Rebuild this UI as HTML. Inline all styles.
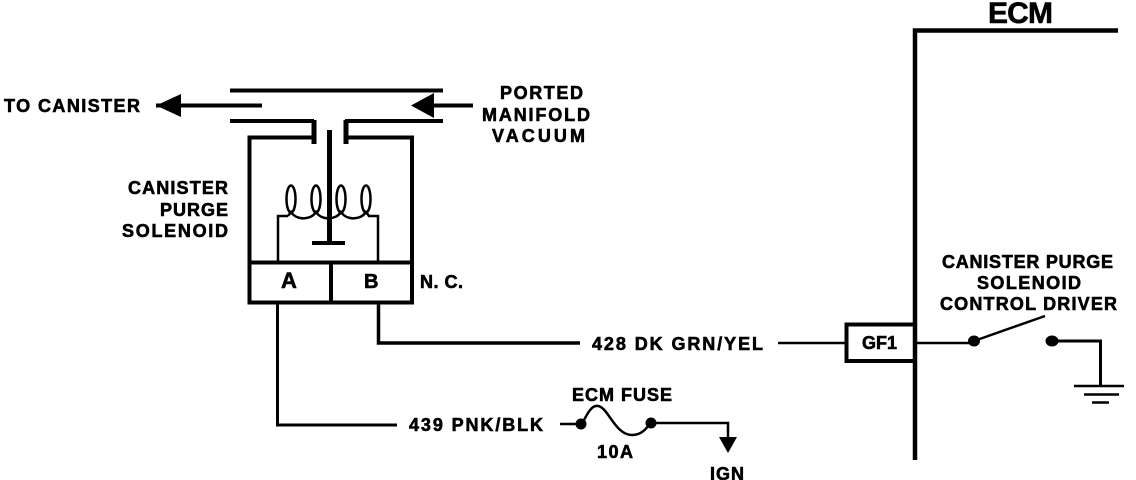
<!DOCTYPE html>
<html><head><meta charset="utf-8"><style>
html,body{margin:0;padding:0;background:#fff;width:1136px;height:480px;overflow:hidden}
svg{display:block}
text{font-family:"Liberation Sans",sans-serif;font-weight:bold;fill:#000;stroke:#000;stroke-width:.6;font-size:18px}
</style></head><body>
<svg width="1136" height="480" viewBox="0 0 1136 480" xmlns="http://www.w3.org/2000/svg">
<g fill="none" stroke="#000" stroke-linecap="butt">
<!-- vacuum pipes -->
<path d="M230 90.500H443" stroke-width="4"/>
<path d="M230 121H314M345 121H443" stroke-width="4"/>
<path d="M156 105.500H262" stroke-width="4"/>
<path d="M434 105.500H473" stroke-width="4"/>
<!-- solenoid body -->
<path d="M314 120V144M346 120V144" stroke-width="5"/>
<path d="M312 137.500H249.500V302.500H412V137.500H346" stroke-width="4"/>
<path d="M249 262.500H412" stroke-width="4"/>
<path d="M331 262V302" stroke-width="4"/>
<path d="M329.500 130V243" stroke-width="5"/>
<path d="M312 243H345" stroke-width="4"/>
<!-- coil -->
<g stroke-width="2.500">
<path d="M278 262V216H288"/>
<path d="M378 262V216H368"/>
<ellipse cx="291" cy="199" rx="4.500" ry="13.500"/>
<ellipse cx="316" cy="199" rx="4.500" ry="13.500"/>
<ellipse cx="341" cy="199" rx="4.500" ry="13.500"/>
<ellipse cx="366" cy="199" rx="4.500" ry="13.500"/>
<path d="M288 216L291 212C296 220 310 221 316 212C321 220 335 221 341 212C346 220 360 221 366 212L369 216"/>
</g>
<!-- wires -->
<path d="M277.500 302V425H397" stroke-width="3"/>
<path d="M378.500 302V343H580" stroke-width="3.500"/>
<path d="M778 343H845" stroke-width="2.500"/>
<path d="M560 424H582" stroke-width="2.500"/>
<path d="M582 424C588 412 592 405 598 406C608 407 615 435 632 435C640 435 646 430 650 423" stroke-width="2.500"/>
<path d="M650 423H728V440" stroke-width="2.500"/>
<!-- ECM -->
<path d="M915 460V30.500H1118" stroke-width="4.500"/>
<path d="M915 324.500H846.500V361H915" stroke-width="4"/>
<path d="M915 343H974" stroke-width="2.500"/>
<path d="M974 341L1045 316" stroke-width="2.500"/>
<path d="M1052 341H1100.500V386" stroke-width="3"/>
<path d="M1074 386H1124" stroke-width="2.500"/>
<path d="M1084 394.500H1119" stroke-width="2.500"/>
<path d="M1092 402.500H1109" stroke-width="2.500"/>
</g>
<!-- arrowheads and dots -->
<polygon points="156,105.500 181,94 181,117"/>
<polygon points="411,105.500 434,93 434,118"/>
<polygon points="719,437 737,437 728,453"/>
<circle cx="581" cy="424" r="5.500"/>
<circle cx="651" cy="423" r="5.500"/>
<ellipse cx="974" cy="341" rx="6" ry="5.500"/>
<ellipse cx="1052" cy="341" rx="6.500" ry="5.500"/>
<!-- labels -->
<text x="4" y="112" textLength="136">TO CANISTER</text>
<text x="500" y="99" textLength="83">PORTED</text>
<text x="482" y="121" textLength="108">MANIFOLD</text>
<text x="492" y="142" textLength="93">VACUUM</text>
<text x="128" y="194" textLength="100">CANISTER</text>
<text x="160" y="216" textLength="68">PURGE</text>
<text x="122" y="237" textLength="106">SOLENOID</text>
<text x="281" y="288" style="font-size:22px">A</text>
<text x="364" y="288" style="font-size:20px">B</text>
<text x="420" y="288" textLength="43">N. C.</text>
<text x="592" y="350" textLength="171">428 DK GRN/YEL</text>
<text x="409" y="431" textLength="134">439 PNK/BLK</text>
<text x="572" y="401" textLength="100">ECM FUSE</text>
<text x="597" y="458" textLength="36">10A</text>
<text x="710" y="480" textLength="34">IGN</text>
<text x="988" y="23" textLength="65" style="font-size:30px">ECM</text>
<text x="862" y="349" textLength="35">GF1</text>
<text x="942" y="268" textLength="171">CANISTER PURGE</text>
<text x="977" y="289" textLength="104">SOLENOID</text>
<text x="940" y="310" textLength="177">CONTROL DRIVER</text>
</svg>
</body></html>
